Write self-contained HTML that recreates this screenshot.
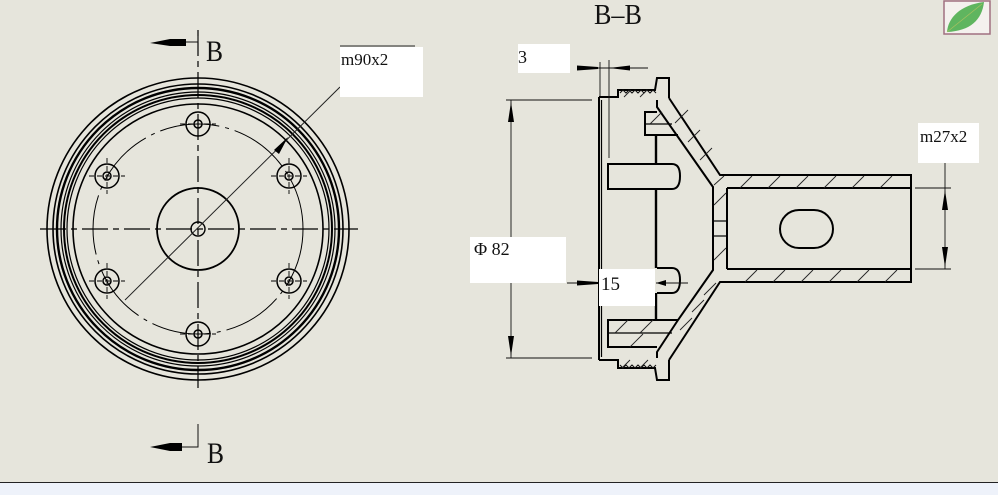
<!DOCTYPE html>
<html><head><meta charset="utf-8"><style>
html,body{margin:0;padding:0;}
body{width:998px;height:495px;background:#e6e5dc;overflow:hidden;position:relative;}
svg{position:absolute;left:0;top:0;}
</style></head><body>
<svg width="998" height="495" viewBox="0 0 998 495" xmlns="http://www.w3.org/2000/svg" font-family="Liberation Serif, serif">
<rect x="0" y="0" width="998" height="495" fill="#e6e5dc"/>
<rect x="0" y="483" width="998" height="12" fill="#eef2fa"/>
<line x1="0" y1="482.5" x2="998" y2="482.5" stroke="#222" stroke-width="1"/>

<!-- leaf icon -->
<rect x="944" y="1" width="46" height="33" fill="#f4f1ee" stroke="#a07080" stroke-width="1.5"/>
<path d="M947,32 C948,18 960,5 984,2 C982,20 970,31 947,32 Z" fill="#5fb55f"/>
<line x1="947" y1="32" x2="982" y2="4" stroke="#a8c060" stroke-width="0.8"/>

<!-- FRONT VIEW -->
<g fill="none" stroke="#000">
<circle cx="198" cy="229" r="151" stroke-width="1.6"/>
<circle cx="198" cy="229" r="145" stroke-width="1.6"/>
<circle cx="198" cy="229" r="141" stroke-width="2.4"/>
<circle cx="198" cy="229" r="137" stroke-width="1.2"/>
<circle cx="198" cy="229" r="134" stroke-width="2"/>
<circle cx="198" cy="229" r="131" stroke-width="1.2"/>
<circle cx="198" cy="229" r="125" stroke-width="1.6"/>
<circle cx="198" cy="229" r="105" stroke-width="1" stroke-dasharray="60,6,4,6"/>
<circle cx="198" cy="229" r="41" stroke-width="1.8"/>
<circle cx="198" cy="229" r="7" stroke-width="1.4"/>
<line x1="40" y1="229" x2="358" y2="229" stroke-width="1.2" stroke-dasharray="26,5,6,5"/>
<line x1="198" y1="30" x2="198" y2="388" stroke-width="1.2" stroke-dasharray="26,5,6,5"/>
</g>
<g fill="none" stroke="#000" stroke-width="1.5">
<g transform="translate(198,124)"><circle r="12"/><circle r="4"/><line x1="-18" y1="0" x2="18" y2="0" stroke-width="0.9" stroke-dasharray="5,3"/></g>
<g transform="translate(198,334)"><circle r="12"/><circle r="4"/><line x1="-18" y1="0" x2="18" y2="0" stroke-width="0.9" stroke-dasharray="5,3"/></g>
<g transform="translate(107,176)"><circle r="12"/><circle r="4"/><line x1="-18" y1="0" x2="18" y2="0" stroke-width="0.9" stroke-dasharray="5,3"/><line x1="0" y1="-18" x2="0" y2="18" stroke-width="0.9" stroke-dasharray="5,3"/></g>
<g transform="translate(289,176)"><circle r="12"/><circle r="4"/><line x1="-18" y1="0" x2="18" y2="0" stroke-width="0.9" stroke-dasharray="5,3"/><line x1="0" y1="-18" x2="0" y2="18" stroke-width="0.9" stroke-dasharray="5,3"/></g>
<g transform="translate(107,281)"><circle r="12"/><circle r="4"/><line x1="-18" y1="0" x2="18" y2="0" stroke-width="0.9" stroke-dasharray="5,3"/><line x1="0" y1="-18" x2="0" y2="18" stroke-width="0.9" stroke-dasharray="5,3"/></g>
<g transform="translate(289,281)"><circle r="12"/><circle r="4"/><line x1="-18" y1="0" x2="18" y2="0" stroke-width="0.9" stroke-dasharray="5,3"/><line x1="0" y1="-18" x2="0" y2="18" stroke-width="0.9" stroke-dasharray="5,3"/></g>
</g>
<!-- leader m90x2 -->
<line x1="125" y1="300" x2="340" y2="87" stroke="#222" stroke-width="1"/>
<polygon points="288,137 274,150 279,154" fill="#000"/>
<line x1="340" y1="46" x2="415" y2="46" stroke="#222" stroke-width="1"/>
<rect x="340" y="47" width="83" height="50" fill="#fff"/>
<text x="341" y="65" font-size="17" fill="#111">m90x2</text>

<!-- section markers -->
<polyline points="185,42 198,42 198,36" fill="none" stroke="#111" stroke-width="1"/>
<polygon points="150,43 170,39 186,39 186,46 170,46" fill="#000"/>
<text x="206" y="61" font-size="30" fill="#111" transform="translate(206,0) scale(0.85,1) translate(-206,0)">B</text>
<polyline points="182,447 198,447 198,424" fill="none" stroke="#111" stroke-width="1"/>
<polygon points="150,447 170,443 182,443 182,451 170,451" fill="#000"/>
<text x="207" y="463" font-size="30" fill="#111" transform="translate(207,0) scale(0.85,1) translate(-207,0)">B</text>

<!-- SECTION VIEW -->
<text x="594" y="24" font-size="29" fill="#111" transform="translate(594,0) scale(0.9,1) translate(-594,0)">B–B</text>

<g fill="none" stroke="#000" stroke-width="2">
<line x1="599" y1="97" x2="599" y2="360"/>
<line x1="601.5" y1="100" x2="601.5" y2="357" stroke-width="1.2"/>
<polyline points="599,97 618,97 618,90 655,90 657,78 669,78 669,98"/>
<polyline points="599,360 618,360 618,368 655,368 657,380 669,380 669,360"/>
<polyline points="669,98 720,175 911,175 911,282 720,282 669,360"/>
<polyline points="657,100 657,107 678,137 713,187 713,270 678,320 657,352 657,358"/>
<line x1="727" y1="188" x2="911" y2="188"/>
<line x1="727" y1="269" x2="911" y2="269"/>
<line x1="727" y1="188" x2="727" y2="269"/>
<line x1="713" y1="221" x2="727" y2="221" stroke-width="1.2"/>
<line x1="713" y1="236" x2="727" y2="236" stroke-width="1.2"/>
<polyline points="657,112 645,112 645,135 678,135"/>
<line x1="645" y1="124" x2="672" y2="124" stroke-width="1.2"/>
<path d="M608,164 H672 Q680,164 680,176 Q680,189 672,189 H608 Z"/>
<path d="M657,268 H672 Q680,268 680,280 Q680,293 672,293 H657"/>
<polyline points="678,320 608,320 608,347 657,347"/>
<line x1="608" y1="333" x2="672" y2="333" stroke-width="1.2"/>
<line x1="656" y1="135" x2="656" y2="164" stroke-width="2.4"/>
<line x1="656" y1="189" x2="656" y2="268" stroke-width="2.4"/>
<line x1="656" y1="293" x2="656" y2="320" stroke-width="2.4"/>
<rect x="780" y="210" width="53" height="38" rx="19" ry="19"/>
</g>
<path d="M620,93 l3,-3 l3,3 l3,-3 l3,3 l3,-3 l3,3 l3,-3 l3,3 l3,-3 l3,3 l3,-3 l3,3" fill="none" stroke="#111" stroke-width="1"/>
<path d="M620,365 l3,3 l3,-3 l3,3 l3,-3 l3,3 l3,-3 l3,3 l3,-3 l3,3 l3,-3 l3,3 l3,-3" fill="none" stroke="#111" stroke-width="1"/>
<g stroke="#222" stroke-width="0.9">
<line x1="740" y1="188" x2="752" y2="176"/><line x1="768" y1="188" x2="780" y2="176"/><line x1="796" y1="188" x2="808" y2="176"/><line x1="824" y1="188" x2="836" y2="176"/><line x1="852" y1="188" x2="864" y2="176"/><line x1="880" y1="188" x2="892" y2="176"/>
<line x1="745" y1="282" x2="757" y2="270"/><line x1="773" y1="282" x2="785" y2="270"/><line x1="801" y1="282" x2="813" y2="270"/><line x1="829" y1="282" x2="841" y2="270"/><line x1="857" y1="282" x2="869" y2="270"/><line x1="885" y1="282" x2="897" y2="270"/>
<line x1="675" y1="123" x2="688" y2="110"/><line x1="688" y1="142" x2="700" y2="130"/><line x1="700" y1="160" x2="712" y2="148"/><line x1="714" y1="185" x2="724" y2="176"/>
<line x1="714" y1="205" x2="726" y2="193"/><line x1="714" y1="260" x2="726" y2="248"/>
<line x1="680" y1="330" x2="692" y2="318"/><line x1="692" y1="312" x2="704" y2="300"/><line x1="704" y1="295" x2="716" y2="283"/>
<line x1="624" y1="97" x2="631" y2="90"/><line x1="640" y1="97" x2="647" y2="90"/>
<line x1="622" y1="368" x2="630" y2="360"/><line x1="640" y1="368" x2="648" y2="360"/>
<line x1="615" y1="333" x2="628" y2="320"/><line x1="640" y1="333" x2="653" y2="320"/>
<line x1="630" y1="347" x2="643" y2="334"/>
<line x1="650" y1="124" x2="662" y2="112"/>
</g>

<!-- dimension 3 -->
<line x1="609" y1="60" x2="609" y2="158" stroke="#111" stroke-width="0.9"/>
<line x1="600" y1="62" x2="600" y2="96" stroke="#111" stroke-width="0.9"/>
<line x1="577" y1="68" x2="648" y2="68" stroke="#111" stroke-width="0.9"/>
<polygon points="577,65.5 577,70.5 598,69 598,67" fill="#000"/>
<polygon points="609,68 630,65.5 630,70.5" fill="#000"/>
<rect x="518" y="44" width="52" height="29" fill="#fff"/>
<text x="518" y="63" font-size="18" fill="#111">3</text>

<!-- dimension phi82 -->
<line x1="506" y1="100" x2="592" y2="100" stroke="#111" stroke-width="0.9"/>
<line x1="506" y1="358" x2="592" y2="358" stroke="#111" stroke-width="0.9"/>
<line x1="511" y1="100" x2="511" y2="358" stroke="#111" stroke-width="0.9"/>
<polygon points="511,102 508,122 514,122" fill="#000"/>
<polygon points="511,356 508,336 514,336" fill="#000"/>
<rect x="470" y="237" width="96" height="46" fill="#fff"/>
<text x="474" y="255" font-size="18" fill="#111">Φ 82</text>

<!-- dimension 15 -->
<line x1="567" y1="283" x2="598" y2="283" stroke="#111" stroke-width="0.9"/>
<polygon points="577,280.5 577,285.5 598,284 598,282" fill="#000"/>
<line x1="656" y1="283" x2="688" y2="283" stroke="#111" stroke-width="0.9"/>
<polygon points="656,283 666,280 666,286" fill="#000"/>
<rect x="599" y="269" width="56" height="37" fill="#fff"/>
<text x="601" y="290" font-size="19" fill="#111">15</text>

<!-- dimension m27x2 -->
<line x1="915" y1="188" x2="951" y2="188" stroke="#111" stroke-width="0.9"/>
<line x1="915" y1="269" x2="951" y2="269" stroke="#111" stroke-width="0.9"/>
<line x1="945" y1="162" x2="945" y2="269" stroke="#111" stroke-width="0.9"/>
<polygon points="945,190 942,210 948,210" fill="#000"/>
<polygon points="945,267 942,247 948,247" fill="#000"/>
<rect x="918" y="123" width="61" height="40" fill="#fff"/>
<text x="920" y="142" font-size="17" fill="#111">m27x2</text>
</svg>
</body></html>
